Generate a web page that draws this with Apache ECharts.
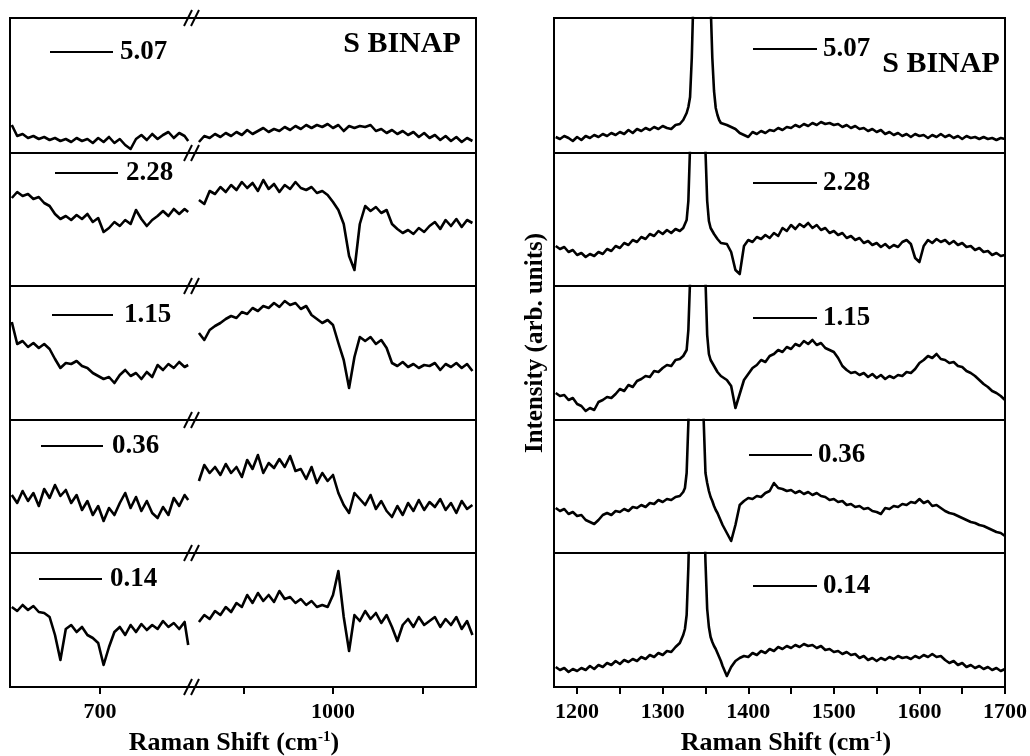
<!DOCTYPE html>
<html><head><meta charset="utf-8">
<script src="https://cdn.jsdelivr.net/npm/echarts@6/dist/echarts.min.js"></script>
<style>html,body{margin:0;padding:0;background:#fff}#c{width:1030px;height:756px}</style>
</head><body><div id="c"></div>
<script>
// ---------------- data ----------------
const concentrations = ['5.07', '2.28', '1.15', '0.36', '0.14'];
const sampleName = 'S BINAP';

// left panel, segment before the axis break
const xLeftA = [651,654,657,660,663,666,669,672,675,678,681,684,687,690,693,696,699,702,705,708,711,714,717,720,723,726,729,732,735,738,741,744,747,749];
// left panel, segment after the axis break
const xLeftB = [925,928,931,934,937,940,943,946,949,952,955,958,961,964,967,970,973,976,979,982,985,988,991,994,997,1000,1003,1006,1009,1012,1015,1018,1021,1024,1027,1030,1033,1036,1039,1042,1045,1048,1051,1054,1057,1060,1063,1066,1069,1072,1075,1078];
// right panel
const xRight = [1175,1180,1185,1190,1195,1200,1205,1210,1215,1220,1225,1230,1235,1240,1245,1250,1255,1260,1265,1270,1275,1280,1285,1290,1295,1300,1305,1310,1315,1320,
  1322,1324,1326,1328,1330,1332,1334,1336,1338,1340,1342,1344,1346,1348,1350,1352,1354,1356,1358,1360,1362,1364,1366,1368,1370,
  1375,1380,1385,1390,1395,1400,1405,1410,1415,1420,1425,1430,1435,1440,1445,1450,1455,1460,1465,1470,1475,1480,1485,1490,1495,1500,1505,1510,1515,1520,1525,1530,1535,1540,1545,1550,1555,1560,1565,1570,1575,1580,1585,1590,1595,1600,1605,1610,1615,1620,1625,1630,1635,1640,1645,1650,1655,1660,1665,1670,1675,1680,1685,1690,1695,1700];

// intensities (arb. units), one array per concentration and segment
const leftA_507 = [28,17,19,15,17,14,16,13,15,12,14,11,15,12,14,10,15,11,16,10,14,8,4,14,18,13,19,14,18,21,15,20,17,12];
const leftA_228 = [88,94,90,92,87,89,83,80,72,67,70,66,71,67,72,64,68,54,58,64,60,66,62,76,67,60,66,70,75,70,77,72,77,74];
const leftA_115 = [98,76,79,73,77,72,76,71,61,52,57,56,59,54,52,47,44,41,43,37,45,50,44,47,41,48,43,55,50,56,52,58,53,55];
const leftA_036 = [58,50,62,52,60,47,64,55,68,57,63,50,58,43,52,38,47,32,45,38,50,60,45,56,42,52,40,35,46,38,55,47,58,53];
const leftA_014 = [80,76,82,77,81,75,74,70,52,27,58,62,55,60,52,49,44,22,40,55,60,52,62,55,63,57,62,58,66,60,64,58,65,42];

const leftB_507 = [11,17,15,19,16,20,17,21,18,23,19,22,25,21,24,22,26,23,27,24,28,25,28,26,29,25,28,22,27,25,27,26,28,22,24,20,23,19,22,18,21,16,20,15,18,13,17,12,16,11,15,12];
const leftB_228 = [86,82,95,92,99,94,101,96,104,98,103,95,106,97,102,94,101,97,104,98,96,99,93,95,91,84,76,62,30,16,62,80,75,79,73,76,62,57,53,56,52,58,54,60,64,57,66,60,67,59,66,63];
const leftB_115 = [87,80,90,94,97,101,104,102,108,106,112,109,114,112,117,113,119,115,117,111,114,105,101,97,100,95,77,60,32,63,83,79,83,76,80,72,57,54,58,53,56,52,55,54,57,50,56,53,57,52,56,49];
const leftB_036 = [72,88,80,86,78,89,80,86,76,93,84,98,80,90,85,94,86,97,82,84,74,86,70,80,72,78,60,48,40,60,54,48,58,44,52,42,36,47,38,50,42,53,43,51,46,54,43,50,40,52,44,48];
const leftB_014 = [65,72,68,76,72,80,75,84,80,92,84,94,86,92,85,96,88,90,84,88,82,86,80,82,80,92,116,70,36,72,66,76,68,74,64,72,60,46,62,68,60,70,62,66,70,60,68,62,70,58,66,52];

const right_507 = [16,14,17,15,12,16,13,17,15,18,16,19,17,20,18,21,19,23,20,24,22,25,23,26,24,27,25,24,28,29,
  30,33,35,40,46,56,95,160,240,320,380,420,430,420,380,300,220,150,95,62,45,38,33,30,29,
  28,26,24,20,18,16,21,19,22,20,23,22,25,23,26,25,28,26,29,27,30,28,31,29,30,28,29,26,28,25,27,24,25,22,24,21,23,19,21,18,20,17,19,16,19,17,18,15,18,16,19,16,18,15,17,14,17,15,16,14,16,14,15,13,15,14];
const right_228 = [40,37,39,34,36,31,33,29,32,30,34,32,37,35,40,38,43,41,46,44,49,47,52,50,55,52,56,53,57,55,
  57,58,60,66,85,140,220,300,380,420,420,380,300,210,135,85,65,58,55,52,50,47,45,43,41,
  42,34,16,12,40,46,44,49,47,51,48,53,50,58,55,61,57,62,59,63,58,61,56,58,53,55,51,53,48,50,46,48,43,45,41,43,39,42,38,41,39,44,46,42,28,24,40,46,43,47,44,46,42,45,41,43,39,40,36,38,34,35,31,33,30,31];
const right_115 = [27,24,25,20,22,16,14,9,12,10,18,20,23,22,26,31,29,35,33,39,41,44,43,49,48,52,55,54,60,61,
  63,64,66,70,90,140,220,300,380,420,420,380,300,210,140,85,66,60,57,54,51,48,46,44,42,
  40,34,12,26,40,46,52,55,60,58,64,66,70,68,73,71,76,74,79,76,80,75,77,72,70,68,62,54,50,47,48,45,47,43,46,42,45,41,44,42,45,44,48,47,51,57,60,64,62,66,61,60,57,58,54,53,49,47,44,40,36,33,29,27,24,20];
const right_036 = [45,42,44,39,41,37,38,33,31,29,33,38,40,38,42,41,44,42,46,45,48,46,50,49,53,51,54,53,56,57,
  59,61,65,80,130,200,290,370,420,420,370,290,200,130,80,70,62,56,52,47,43,40,36,32,28,
  20,12,28,48,52,55,54,57,56,60,62,70,65,64,62,63,60,62,59,61,58,60,57,56,53,54,51,52,48,49,46,47,44,45,42,41,39,45,44,47,46,49,48,51,50,54,50,52,47,48,45,42,40,39,37,35,33,31,30,28,27,25,23,21,20,17];
const right_014 = [20,17,19,15,18,16,19,17,21,18,22,20,24,22,26,23,27,25,28,26,30,28,32,30,34,32,36,35,40,44,
  48,52,58,72,120,190,280,360,410,420,410,360,280,190,125,78,60,50,45,41,38,34,30,26,21,
  11,20,26,29,31,30,34,32,36,34,38,36,40,38,41,39,42,40,43,41,42,39,41,37,38,35,36,33,35,32,33,29,31,27,29,26,29,27,30,28,31,29,30,28,31,29,32,30,33,30,31,27,24,26,22,24,20,22,19,21,18,20,17,19,16,18];

const leftASeries = [leftA_507, leftA_228, leftA_115, leftA_036, leftA_014];
const leftBSeries = [leftB_507, leftB_228, leftB_115, leftB_036, leftB_014];
const rightSeries = [right_507, right_228, right_115, right_036, right_014];

// axis ticks and labels
const ticksLeftA = [700];
const labelsLeftA = [700];
const ticksLeftB = [950, 1000, 1050];
const labelsLeftB = [1000];
const ticksRight = [1200, 1250, 1300, 1350, 1400, 1450, 1500, 1550, 1600, 1650, 1700];
const labelsRight = [1200, 1300, 1400, 1500, 1600, 1700];
const xTitle = 'Raman Shift (cm';
const yTitle = 'Intensity (arb. units)';

// ---------------- layout ----------------
const FONT = '"Liberation Serif","Times New Roman",serif';
const rowTop = [18, 153, 286, 420, 553];
const rowBot = [153, 286, 420, 553, 687];
const panels = [
  {left: 10, width: 180, min: 650, max: 750, xs: xLeftA, ys: leftASeries, ticks: ticksLeftA, labels: labelsLeftA},
  {left: 190, width: 286, min: 920, max: 1080, xs: xLeftB, ys: leftBSeries, ticks: ticksLeftB, labels: labelsLeftB},
  {left: 554, width: 451, min: 1173, max: 1700, xs: xRight, ys: rightSeries, ticks: ticksRight, labels: labelsRight}
];

const grid = [], xAxis = [], yAxis = [], series = [];
panels.forEach(p => {
  for (let r = 0; r < 5; r++) {
    const h = rowBot[r] - rowTop[r];
    const idx = grid.length;
    grid.push({left: p.left, top: rowTop[r], width: p.width, height: h, show: false, outerBoundsMode: 'none', containLabel: false});
    const bottom = r === 4;
    xAxis.push({
      type: 'value', gridIndex: idx, min: p.min, max: p.max, show: bottom,
      axisLine: {show: bottom, onZero: false, lineStyle: {color: '#000', width: 2}},
      axisTick: {show: bottom, customValues: p.ticks, length: 7, inside: false, lineStyle: {color: '#000', width: 2}},
      axisLabel: {show: bottom, customValues: p.labels, formatter: v => String(v), color: '#000', fontFamily: FONT, fontWeight: 'bold', fontSize: 22, margin: 14},
      splitLine: {show: false}
    });
    yAxis.push({type: 'value', gridIndex: idx, min: 0, max: h, show: false, splitLine: {show: false}});
    const ys = p.ys[r];
    series.push({
      type: 'line', xAxisIndex: idx, yAxisIndex: idx,
      data: p.xs.map((x, i) => [x, ys[i]]),
      showSymbol: false, symbol: 'none', clip: true, silent: true, animation: false,
      lineStyle: {color: '#000', width: 2.6, join: 'round'}
    });
  }
});

const graphic = [];
// frames
for (let r = 0; r < 5; r++) {
  const h = rowBot[r] - rowTop[r];
  graphic.push({type: 'rect', shape: {x: 10, y: rowTop[r], width: 466, height: h}, style: {fill: 'none', stroke: '#000', lineWidth: 2}, z: 10});
  graphic.push({type: 'rect', shape: {x: 554, y: rowTop[r], width: 451, height: h}, style: {fill: 'none', stroke: '#000', lineWidth: 2}, z: 10});
}
// axis break marks
[18, 153, 286, 420, 553, 687].forEach(y => {
  graphic.push({type: 'line', shape: {x1: 184, y1: y + 8, x2: 192, y2: y - 8}, style: {stroke: '#000', lineWidth: 2}, z: 11});
  graphic.push({type: 'line', shape: {x1: 191, y1: y + 8, x2: 199, y2: y - 8}, style: {stroke: '#000', lineWidth: 2}, z: 11});
});
// concentration annotations
const legL = [[50, 113, 52, 120], [55, 118, 173, 126], [52, 113, 315, 124], [41, 103, 446, 112], [39, 102, 579, 110]];
const legR = [[753, 817, 49, 823], [753, 817, 183, 823], [753, 817, 318, 823], [749, 812, 455, 818], [753, 817, 586, 823]];
[legL, legR].forEach(leg => leg.forEach((l, r) => {
  graphic.push({type: 'line', shape: {x1: l[0], y1: l[2], x2: l[1], y2: l[2]}, style: {stroke: '#000', lineWidth: 2}, z: 11});
  graphic.push({type: 'text', x: l[3], y: l[2], style: {text: concentrations[r], fontFamily: FONT, fontWeight: 'bold', fontSize: 27, fill: '#000', textAlign: 'left', textVerticalAlign: 'middle'}, z: 11});
}));
// sample name
graphic.push({type: 'text', x: 402, y: 44, style: {text: sampleName, fontFamily: FONT, fontWeight: 'bold', fontSize: 30, fill: '#000', textAlign: 'center', textVerticalAlign: 'middle'}, z: 11});
graphic.push({type: 'text', x: 941, y: 64, style: {text: sampleName, fontFamily: FONT, fontWeight: 'bold', fontSize: 30, fill: '#000', textAlign: 'center', textVerticalAlign: 'middle'}, z: 11});
// axis titles
const rich = {
  a: {fontFamily: FONT, fontWeight: 'bold', fontSize: 26, fill: '#000'},
  s: {fontFamily: FONT, fontWeight: 'bold', fontSize: 15, fill: '#000', verticalAlign: 'top'}
};
[234, 786].forEach(cx => {
  graphic.push({type: 'text', x: cx, y: 743, style: {text: '{a|' + xTitle + '}{s|-1}{a|)}', rich: rich, textAlign: 'center', textVerticalAlign: 'middle'}, z: 11});
});
graphic.push({type: 'text', x: 536, y: 343, rotation: Math.PI / 2, style: {text: yTitle, fontFamily: FONT, fontWeight: 'bold', fontSize: 25, fill: '#000', textAlign: 'center', textVerticalAlign: 'middle'}, z: 11});

const chart = echarts.init(document.getElementById('c'), null, {renderer: 'canvas'});
chart.setOption({backgroundColor: '#fff', animation: false, grid, xAxis, yAxis, series, graphic});
</script></body></html>
